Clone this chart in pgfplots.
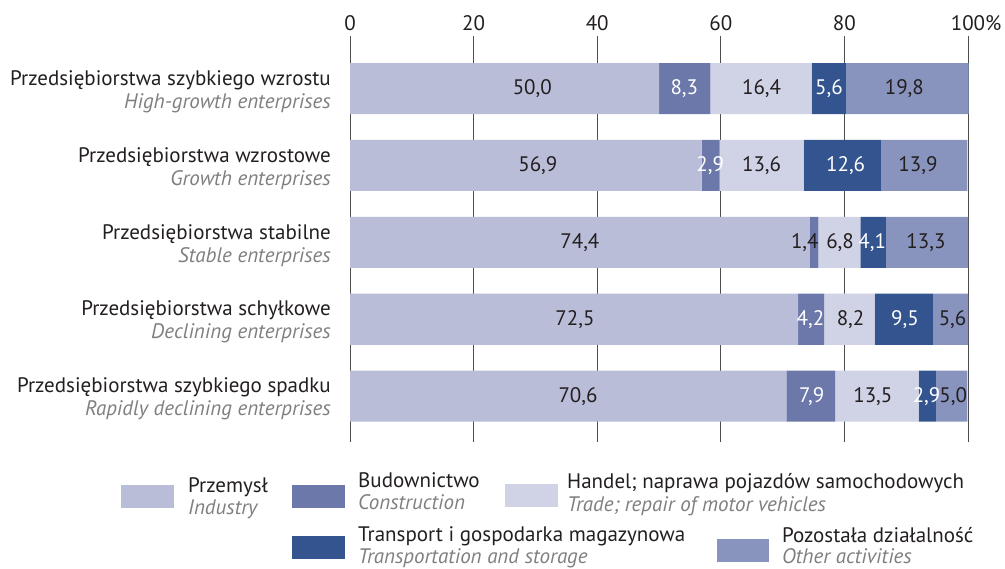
\documentclass[border=0pt]{standalone}
\usepackage{pgfplots}
\pgfplotsset{compat=1.18}
\usepackage{fontspec}
\setmainfont{PT Sans}
\definecolor{cInd}{HTML}{B9BDD8}
\definecolor{cCon}{HTML}{6C78A9}
\definecolor{cTra}{HTML}{D0D3E6}
\definecolor{cTrn}{HTML}{33548E}
\definecolor{cOth}{HTML}{8894BE}
\definecolor{cTxt}{HTML}{231F20}
\definecolor{cGry}{HTML}{7F7F7F}
\definecolor{cGrid}{HTML}{4D4D4D}
\newcommand{\fs}{\fontsize{21bp}{23bp}\selectfont}
\pgfplotstableread{
x y lab
29.5 4 50,0
66.6 4 16,4
89.7 4 19,8
30.4 3 56,9
66.6 3 13,6
91.9 3 13,9
37.2 2 74,4
73.6 2 1,4
79.3 2 6,8
93.2 2 13,3
36.4 1 72,5
81.0 1 8,2
97.5 1 5,6
36.9 0 70,6
84.6 0 13,5
97.6 0 5,0
}\blacklabels
\pgfplotstableread{
x y lab
54.1 4 8,3
77.5 4 5,6
58.3 3 2,9
80.2 3 12,6
84.5 2 4,1
74.5 1 4,2
89.8 1 9,5
74.7 0 7,9
93.3 0 2,9
}\whitelabels
\pgfplotsset{
  common/.style={
    at={(350bp,127bp)}, anchor=south west,
    width=618bp, height=406bp, scale only axis,
    xmin=0, xmax=100, ymin=-0.596, ymax=4.683,
  },
}
\begin{document}
\begin{tikzpicture}
\path[use as bounding box] (0,0) rectangle (1005bp,569bp);
\begin{axis}[
  common,
  xbar stacked, bar width=51bp,
  axis line style={draw=none},
  tick style={draw=none},
  xmajorgrids, grid style={cGrid, line width=0.8bp},
  xtick={0,20,40,60,80,100},
  xticklabels={0,20,40,60,80,100\rlap{\%}},
  xticklabel pos=upper,
  xticklabel style={font=\fs, text=cTxt, inner sep=0pt, anchor=south, yshift=5bp},
  /pgf/number format/assume math mode=true,
  ytick={0,1,2,3,4},
  yticklabels={
    {Przedsiębiorstwa szybkiego spadku\\\textcolor{cGry}{\itshape Rapidly declining enterprises}},
    {Przedsiębiorstwa schyłkowe\\\textcolor{cGry}{\itshape Declining enterprises}},
    {Przedsiębiorstwa stabilne\\\textcolor{cGry}{\itshape Stable enterprises}},
    {Przedsiębiorstwa wzrostowe\\\textcolor{cGry}{\itshape Growth enterprises}},
    {Przedsiębiorstwa szybkiego wzrostu\\\textcolor{cGry}{\itshape High-growth enterprises}}},
  yticklabel style={font=\fs, text=cTxt, align=right, inner sep=0pt, anchor=east, xshift=-19bp, yshift=-3bp},
  clip=false,
]
% Industry
\addplot[fill=cInd, draw=none] coordinates {(70.6,0) (72.5,1) (74.4,2) (56.9,3) (50.0,4)};
% Construction
\addplot[fill=cCon, draw=none] coordinates {(7.9,0) (4.2,1) (1.4,2) (2.9,3) (8.3,4)};
% Trade
\addplot[fill=cTra, draw=none] coordinates {(13.5,0) (8.2,1) (6.8,2) (13.6,3) (16.4,4)};
% Transport
\addplot[fill=cTrn, draw=none] coordinates {(2.9,0) (9.5,1) (4.1,2) (12.6,3) (5.6,4)};
% Other
\addplot[fill=cOth, draw=none] coordinates {(5.0,0) (5.6,1) (13.3,2) (13.9,3) (19.8,4)};
\end{axis}

% value labels, overlaid axis with identical geometry
\begin{axis}[
  common, hide axis, clip=false,
]
\addplot[draw=none, mark=none, nodes near coords, point meta=explicit symbolic,
  nodes near coords align=center,
  every node near coord/.append style={font=\fs, text=cTxt, inner sep=0pt, anchor=center}]
  table[x=x, y=y, meta=lab] {\blacklabels};
\addplot[draw=none, mark=none, nodes near coords, point meta=explicit symbolic,
  nodes near coords align=center,
  every node near coord/.append style={font=\fs, text=white, inner sep=0pt, anchor=center}]
  table[x=x, y=y, meta=lab] {\whitelabels};
\end{axis}

% legend
\begin{scope}[every node/.style={font=\fs, inner sep=0pt, anchor=base west}]
\fill[cInd] (121bp,61bp) rectangle (174bp,84bp);
\node[text=cTxt] at (188bp,76bp) {Przemysł};
\node[text=cGry] at (188bp,54bp) {\itshape Industry};

\fill[cCon] (292bp,61bp) rectangle (345bp,84bp);
\node[text=cTxt] at (358bp,81bp) {Budownictwo};
\node[text=cGry] at (358bp,59bp) {\itshape Construction};

\fill[cTra] (505bp,62bp) rectangle (558bp,85bp);
\node[text=cTxt] at (567bp,80bp) {Handel; naprawa pojazdów samochodowych};
\node[text=cGry] at (567bp,57bp) {\itshape Trade; repair of motor vehicles};

\fill[cTrn] (292bp,10bp) rectangle (345bp,33bp);
\node[text=cTxt] at (358bp,28bp) {Transport i gospodarka magazynowa};
\node[text=cGry] at (358bp,6bp) {\itshape Transportation and storage};

\fill[cOth] (717bp,7bp) rectangle (769bp,30bp);
\node[text=cTxt] at (782bp,27bp) {Pozostała działalność};
\node[text=cGry] at (782bp,6bp) {\itshape Other activities};
\end{scope}
\end{tikzpicture}
\end{document}
